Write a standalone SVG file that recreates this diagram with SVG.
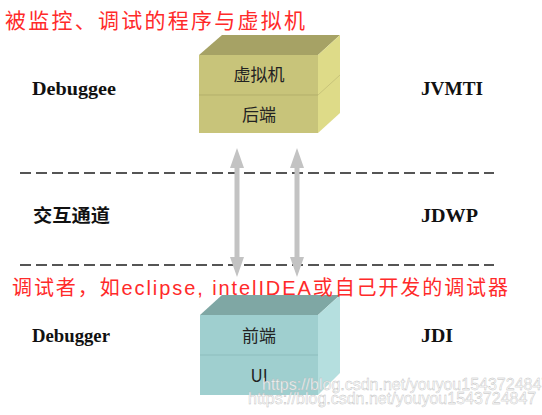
<svg xmlns="http://www.w3.org/2000/svg" width="542" height="415" viewBox="0 0 542 415">
<defs>
<style>
.lbl{font-family:"Liberation Serif",serif;font-weight:bold;font-size:18px;fill:#111}
.cjk{font-family:"Noto Sans CJK SC","Liberation Sans",sans-serif;font-weight:bold;font-size:18px;fill:#111}
.red{font-family:"Liberation Sans","Noto Sans CJK SC",sans-serif;fill:#ff2a2a}
.box{font-family:"Noto Sans CJK SC",sans-serif;font-size:17px;fill:#222}
.dash{stroke:#555;stroke-width:2;stroke-dasharray:11 5;fill:none}
.arrow{fill:#c3c3c3}
.wm{font-family:"Liberation Sans",sans-serif;font-size:16px;fill:#fff;fill-opacity:0.85;stroke:#bbb;stroke-width:0.4}
</style>
</defs>
<rect width="542" height="415" fill="#fff"/>
<text class="red" x="5" y="28" font-size="21" textLength="300">被监控、调试的程序与虚拟机</text>
<g id="debuggee-box">
<polygon points="199,55 222,35 340,35 318,55" fill="#a6a265"/>
<polygon points="318,55 340,35 340,113 318,133" fill="#dedb88"/>
<rect x="199" y="55" width="119" height="78" fill="#c8c47a"/>
<line x1="199" y1="95" x2="318" y2="95" stroke="#b3af6a" stroke-width="1"/>
<line x1="318" y1="95" x2="340" y2="75" stroke="#c8c47a" stroke-width="1"/>
<text class="box" x="259" y="81" text-anchor="middle">虚拟机</text>
<text class="box" x="259" y="121" text-anchor="middle">后端</text>
</g>
<g id="debugger-box">
<polygon points="200,315 222,295 340,295 318,315" fill="#7fa7a4"/>
<polygon points="318,315 340,295 340,373 318,395" fill="#b5dfdf"/>
<rect x="200" y="315" width="118" height="80" fill="#9fcfcf"/>
<line x1="200" y1="355" x2="318" y2="355" stroke="#8dbdbd" stroke-width="1"/>
<text class="box" x="259" y="342" text-anchor="middle">前端</text>
<text class="box" x="259" y="382" text-anchor="middle" font-family="Liberation Serif,serif">UI</text>
</g>
<g id="connectors">
<line class="dash" x1="20" y1="173" x2="494" y2="173"/>
<line class="dash" x1="20" y1="265" x2="494" y2="265"/>
<polygon class="arrow" points="237,148 244,168 239.5,168 239.5,257 244,257 237,277 230,257 234.5,257 234.5,168 230,168"/>
<polygon class="arrow" points="297,148 304,168 299.5,168 299.5,257 304,257 297,277 290,257 294.5,257 294.5,168 290,168"/>
</g>
<g id="labels">
<text class="lbl" x="32" y="95" textLength="84" lengthAdjust="spacingAndGlyphs">Debuggee</text>
<text class="lbl" x="421" y="95" textLength="62" lengthAdjust="spacingAndGlyphs">JVMTI</text>
<text class="cjk" x="33" y="222" textLength="77" lengthAdjust="spacingAndGlyphs">交互通道</text>
<text class="lbl" x="421" y="222" textLength="57" lengthAdjust="spacingAndGlyphs">JDWP</text>
<text class="lbl" x="32" y="342" textLength="78" lengthAdjust="spacingAndGlyphs">Debugger</text>
<text class="lbl" x="421" y="342" textLength="32" lengthAdjust="spacingAndGlyphs">JDI</text>
</g>
<text class="red" x="12" y="295" font-size="20" textLength="496">调试者，如eclipse, intelIDEA或自己开发的调试器</text>
<text class="wm" x="262" y="390">https://blog.csdn.net/youyou1543724847</text>
<text class="wm" x="248" y="404">https://blog.csdn.net/youyou1543724847</text>
</svg>
